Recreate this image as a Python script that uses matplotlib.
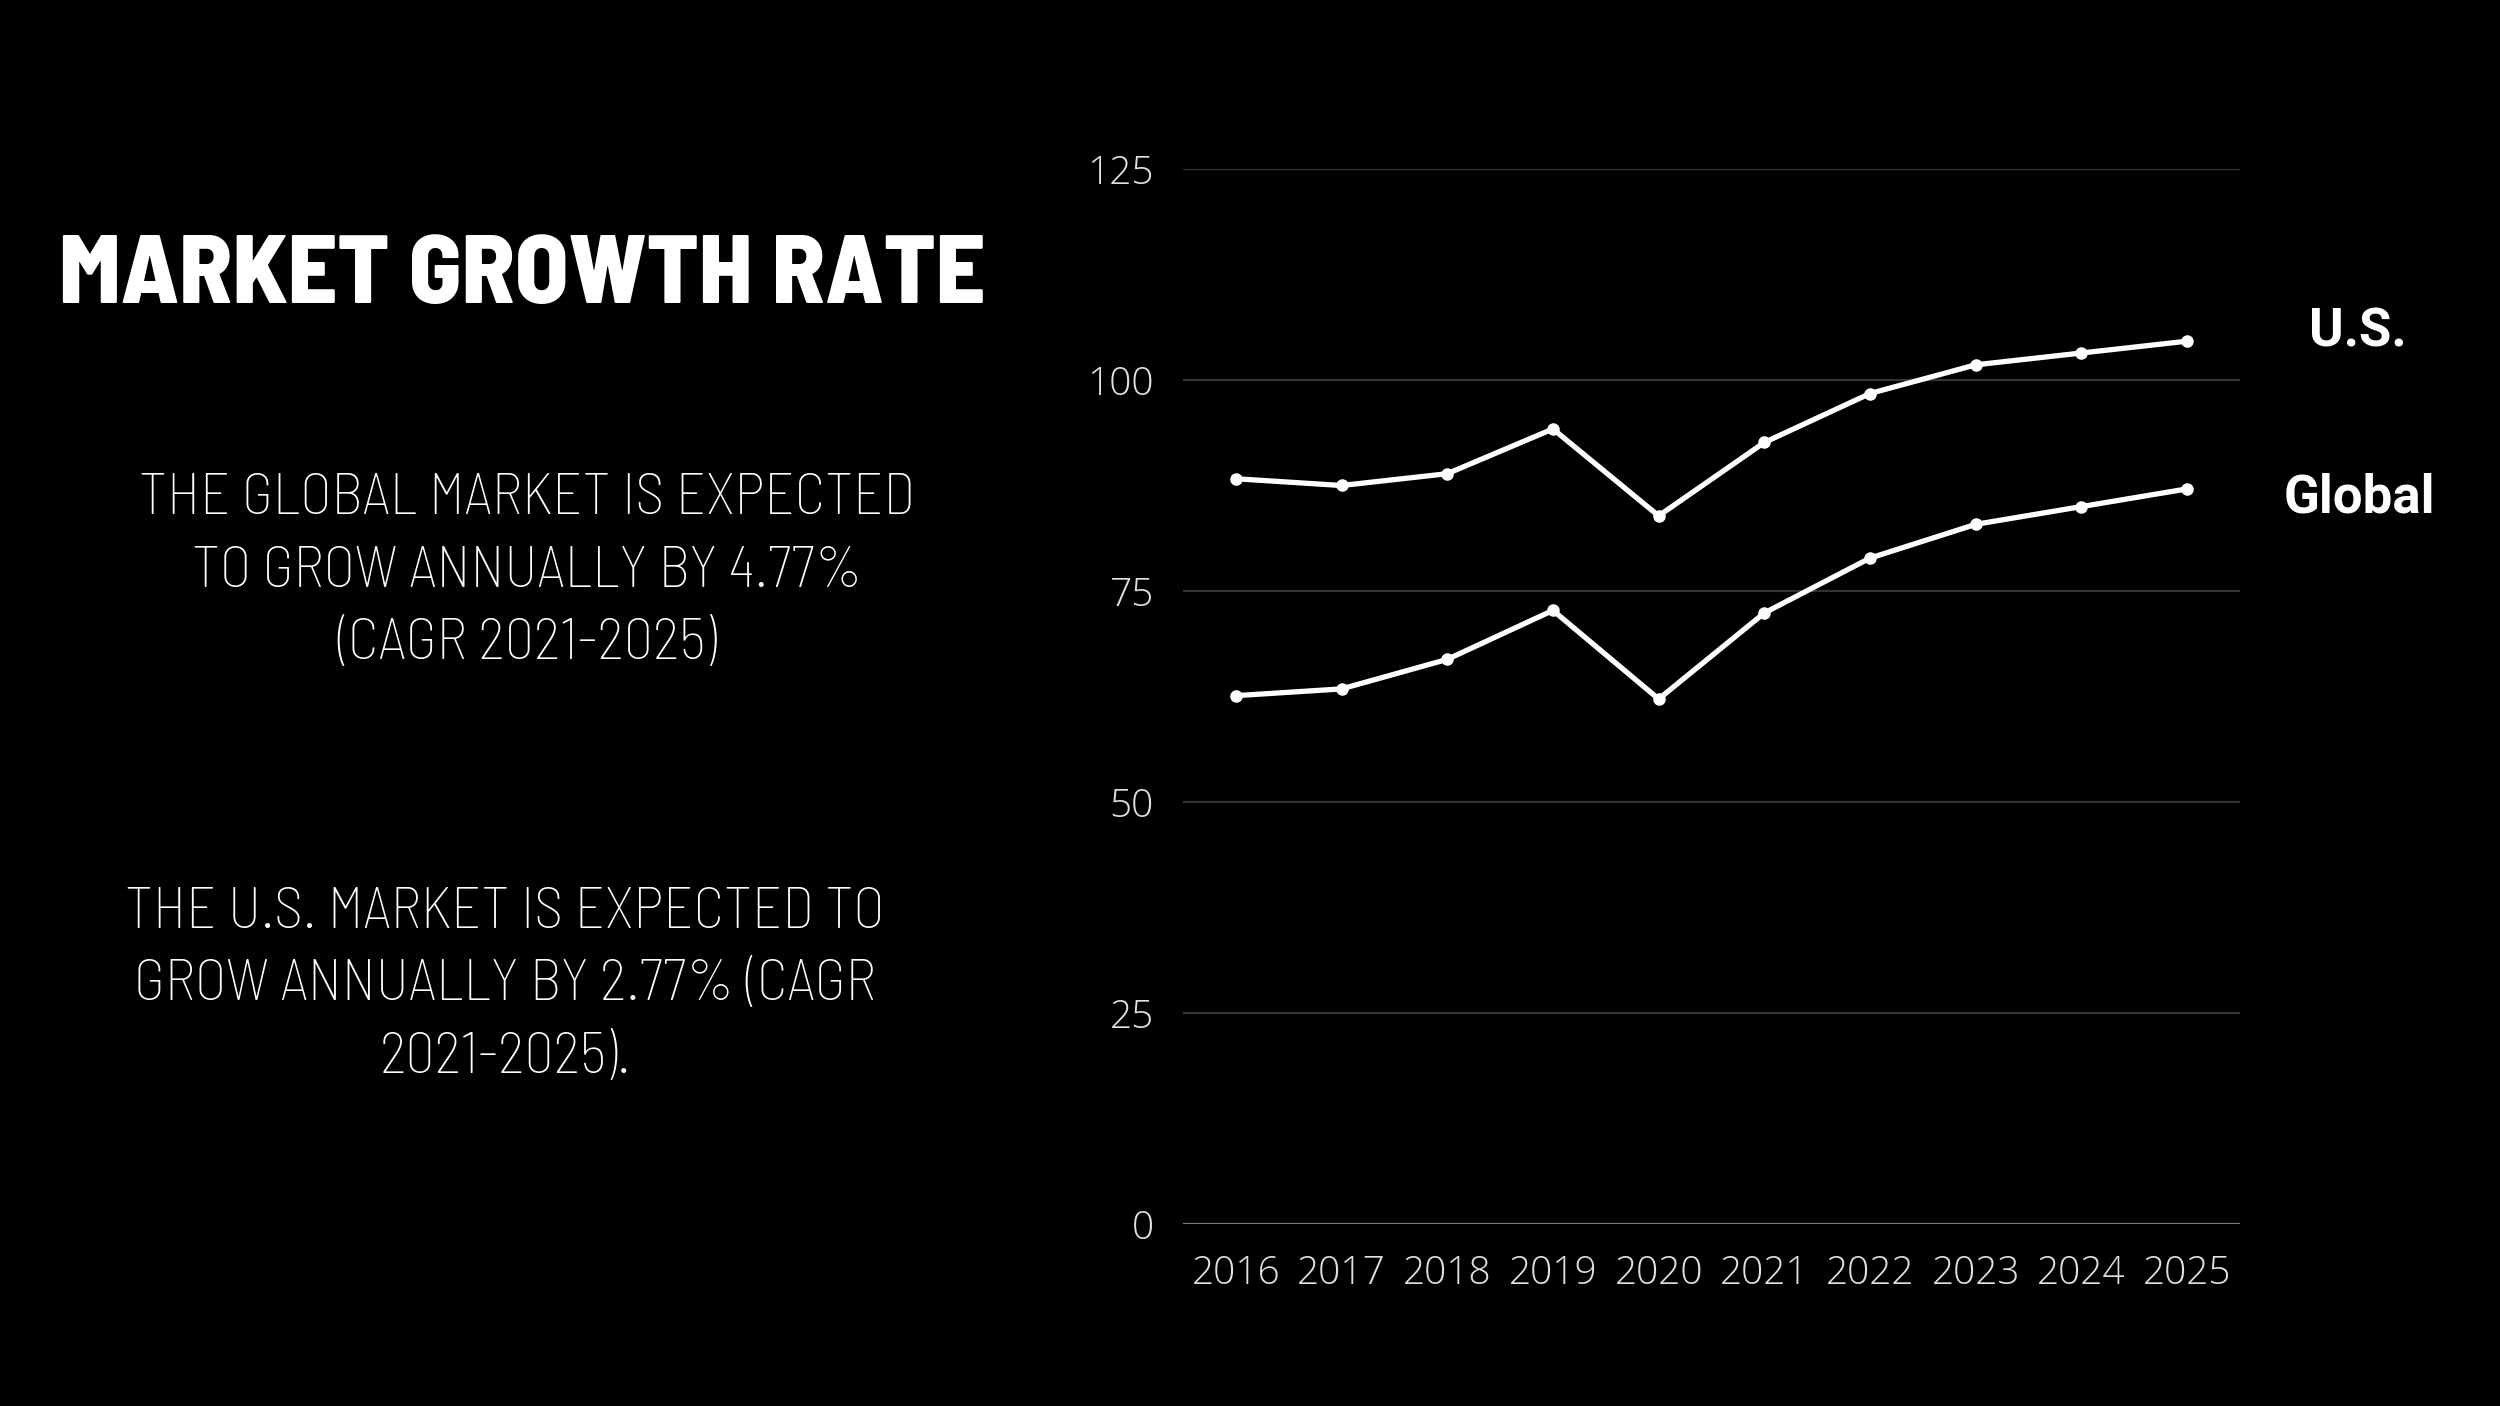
import matplotlib
matplotlib.use("Agg")
import matplotlib.pyplot as plt

years = ["2016", "2017", "2018", "2019", "2020", "2021", "2022", "2023", "2024", "2025"]
us_values = [88.3, 87.5, 88.9, 94.2, 83.9, 92.6, 98.4, 101.8, 103.2, 104.6]
global_values = [62.6, 63.4, 66.9, 72.7, 62.2, 72.4, 78.9, 82.9, 85.0, 87.1]
y_ticks = [0, 25, 50, 75, 100, 125]

title = "MARKET GROWTH RATE"
para_global = ["THE GLOBAL MARKET IS EXPECTED", "TO GROW ANNUALLY BY 4.77%", "(CAGR 2021-2025)"]
para_us = ["THE U.S. MARKET IS EXPECTED TO", "GROW ANNUALLY BY 2.77% (CAGR", "2021-2025)."]

COND = ["Barlow Semi Condensed", "DejaVu Sans"]
W, H = 2500, 1406
fig = plt.figure(figsize=(W / 100, H / 100), dpi=100, facecolor="black")

ax = fig.add_axes([1183 / W, 1 - 1224 / H, (2240 - 1183) / W, (1224 - 169) / H])
ax.set_facecolor("black")
x = list(range(len(years)))
for vals in (us_values, global_values):
    ax.plot(x, vals, color="white", lw=3.8, marker="o", ms=8,
            solid_joinstyle="miter", zorder=3, clip_on=False)

ax.set_xlim(-0.5, len(years) - 0.5)
ax.set_ylim(0, 125)
ax.set_yticks(y_ticks)
ax.set_xticks(x)
ax.set_xticklabels(years)
for v in y_ticks:
    ax.axhline(v, color="#777777" if v == 0 else "#333333", lw=1.6, zorder=1)
for s in ax.spines.values():
    s.set_visible(False)
ax.tick_params(length=0, colors="#dddddd")
ax.tick_params(axis="x", pad=22)
ax.tick_params(axis="y", pad=21)
for lab in ax.get_xticklabels() + ax.get_yticklabels():
    lab.set_fontfamily(["Open Sans", "DejaVu Sans"])
    lab.set_fontweight("light")
    lab.set_fontsize(28)
    lab.set_color("#e0e0e0")

# series labels
fig.text(2358 / W, 1 - 332 / H, "U.S.", color="white", fontsize=38,
         family=["Roboto", "DejaVu Sans"], weight="bold",
         ha="center", va="center")
fig.text(2359 / W, 1 - 498 / H, "Global", color="white", fontsize=38,
         family=["Roboto", "DejaVu Sans"], weight="bold",
         ha="center", va="center")

# title
fig.text(59 / W, 1 - 278 / H, title, color="white", fontsize=70,
         family=COND, weight=800,
         ha="left", va="center")

# paragraphs
for i, line in enumerate(para_global):
    fig.text(527 / W, 1 - (500 + 72.5 * i) / H, line, color="white", fontsize=42,
             family=COND, weight="light",
             ha="center", va="center")
for i, line in enumerate(para_us):
    fig.text(505 / W, 1 - (913 + 72.5 * i) / H, line, color="white", fontsize=42,
             family=COND, weight="light",
             ha="center", va="center")

fig.savefig("out.png", dpi=100, facecolor="black")
